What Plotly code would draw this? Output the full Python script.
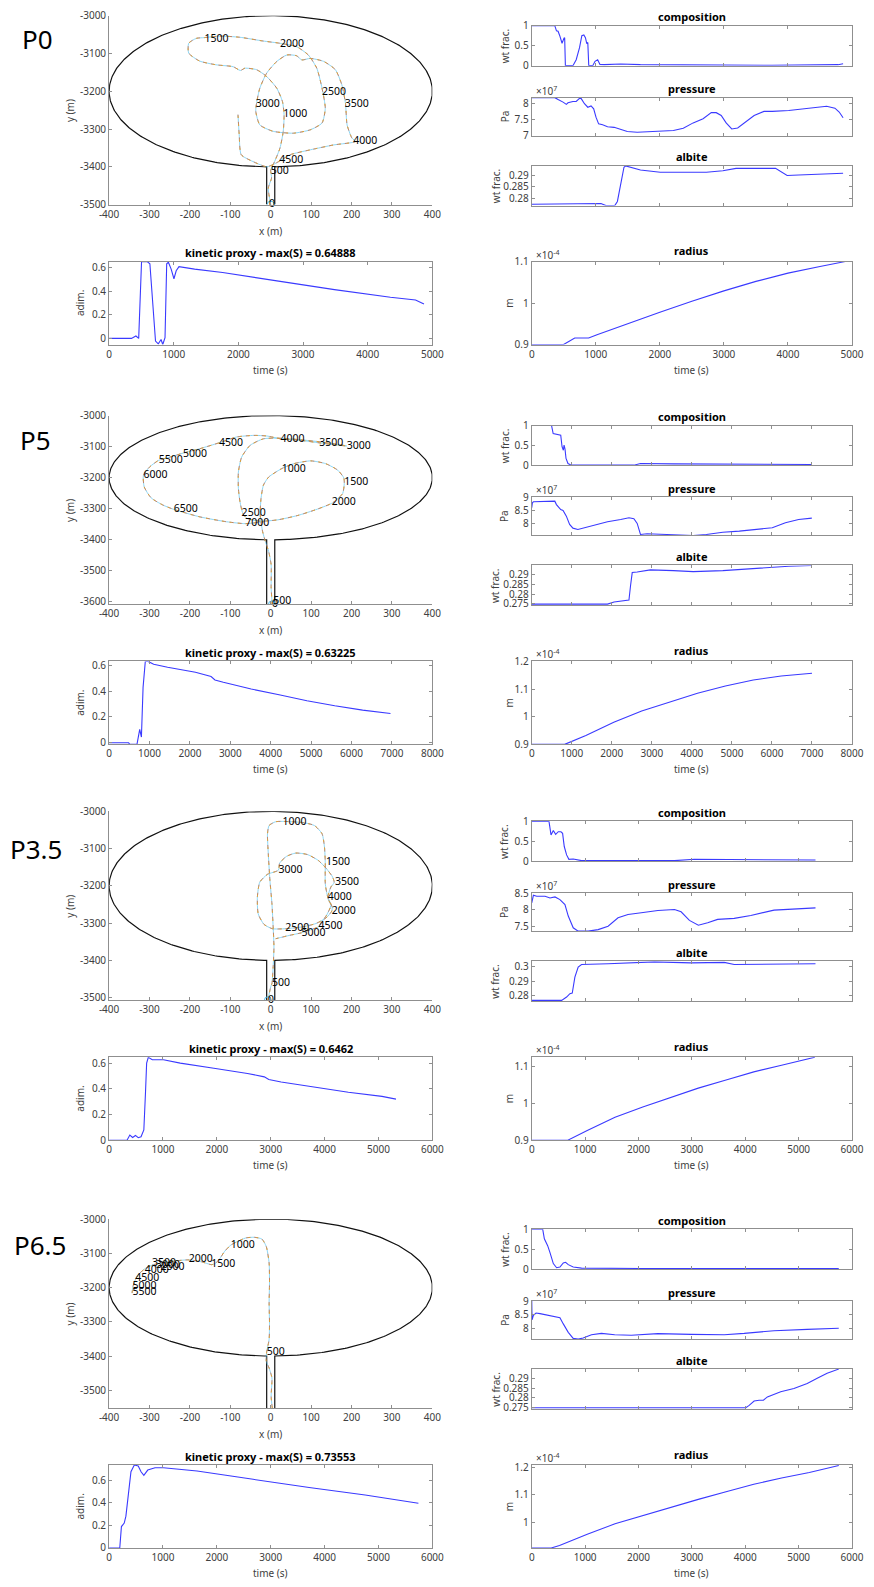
import numpy as np
import plotly.graph_objects as go

W, H = 874, 1587
# measured page placement of the figure in the photographed page (page = C + S * figure px)
SX, CX = 0.971, 10.3
SY, CY = 0.991, 6.3
FONT = "Noto Sans"

# ======================= DATA =======================
# ---- P0 ----
P0_traj_x = [0, -6, 2, 0, 10, 23, 31, 33, 29, 15, -10, -35, -64, -75, -93, -135, -176, -203, -203, -184,
             -164, -126, -77, -19, 23, 64, 93, 114, 127, 135, 127, 98, 56, 6, -27, -37, -35, -27, -10, 15,
             40, 64, 77, 98, 131, 160, 176, 185, 189, 201, 210, 156, 98, 48, 23, 6, -10, -44, -73, -78, -81]
P0_traj_y = [-3500, -3456, -3430, -3408, -3385, -3350, -3306, -3262, -3227, -3192, -3161, -3143, -3139, -3145,
             -3135, -3130, -3120, -3099, -3073, -3060, -3058, -3054, -3057, -3067, -3073, -3082, -3104, -3139,
             -3192, -3245, -3284, -3302, -3311, -3306, -3289, -3253, -3231, -3192, -3152, -3121, -3104, -3106,
             -3117, -3113, -3121, -3143, -3183, -3232, -3289, -3324, -3333, -3342, -3355, -3368, -3384, -3394,
             -3400, -3386, -3368, -3315, -3262]
P0_lbl_t = [0, 500, 1000, 1500, 2000, 2500, 3000, 3500, 4000, 4500]
P0_lbl_x = [-4, 0, 31, -164, 23, 127, -37, 183, 204, 21]
P0_lbl_y = [-3500, -3412, -3262, -3062, -3075, -3202, -3234, -3236, -3333, -3383]

P0_comp_t = [0, 360, 386, 411, 437, 473, 504, 514, 525, 643, 694, 746, 782, 813, 838, 859, 875, 890, 952, 988,
             1029, 1065, 1132, 1389, 1697, 2726, 3755, 4784, 4861]
P0_comp_v = [1, 1, 0.87, 0.86, 0.75, 0.56, 0.69, 0.70, 0, 0, 0.15, 0.45, 0.75, 0.77, 0.70, 0.55, 0.58, 0, 0, 0.11,
             0.15, 0.03, 0.025, 0.04, 0.025, 0.01, 0.01, 0.025, 0.05]
P0_pres_t = [0, 360, 411, 453, 489, 540, 566, 643, 694, 746, 772, 823, 875, 926, 967, 1003, 1044, 1106, 1183, 1286,
             1363, 1492, 1646, 1903, 2212, 2366, 2520, 2675, 2803, 2880, 2958, 3035, 3122, 3215, 3318, 3472, 3626,
             3755, 4012, 4321, 4604, 4733, 4800, 4861]
P0_pres_v = [8.19, 8.19, 8.13, 8.10, 8.05, 7.98, 8.03, 8.07, 8.07, 8.17, 8.16, 8.0, 7.89, 7.93, 7.84, 7.58, 7.37,
             7.34, 7.28, 7.26, 7.21, 7.13, 7.105, 7.14, 7.16, 7.23, 7.40, 7.53, 7.72, 7.72, 7.63, 7.40, 7.21, 7.24,
             7.40, 7.63, 7.76, 7.76, 7.79, 7.86, 7.92, 7.86, 7.74, 7.56]
P0_alb_t = [0, 977, 1080, 1157, 1296, 1337, 1389, 1440, 1466, 1697, 2006, 2726, 2983, 3189, 3806, 3909, 3987, 4167,
            4527, 4861]
P0_alb_v = [0.2774, 0.2774, 0.2777, 0.2768, 0.2768, 0.2786, 0.2858, 0.2935, 0.2941, 0.2923, 0.2913, 0.2913, 0.2920,
            0.2930, 0.2930, 0.2913, 0.2899, 0.2901, 0.2906, 0.2909]
P0_kin_t = [0, 346, 415, 458, 502, 588, 631, 675, 718, 761, 804, 830, 865, 891, 917, 960, 1003, 1038, 1081, 1323,
            1756, 2621, 3486, 4351, 4740, 4870]
P0_kin_v = [0, 0, 0.02, 0, 0.649, 0.649, 0.63, 0.30, -0.023, -0.046, -0.009, -0.052, 0.006, 0.63, 0.643, 0.585,
            0.504, 0.571, 0.606, 0.585, 0.557, 0.484, 0.412, 0.348, 0.325, 0.29]
P0_rad_t = [0, 497, 671, 888, 1019, 1500, 2000, 2500, 3000, 3500, 4000, 4500, 4895]
P0_rad_v = [0.9, 0.9, 0.916, 0.916, 0.924, 0.951, 0.978, 1.005, 1.030, 1.053, 1.073, 1.089, 1.101]

# ---- P5 ----
P5_traj_x = [3, 3, 1, 1, -5, -13, -20, -26, -24, -18, -5, 27, 57, 99, 136, 166, 181, 182, 178, 153,
             116, 66, 16, -26, -59, -69, -76, -80, -80, -72, -51, -18, 24, 74, 124, 157, 188, 157, 120, 74,
             24, -9, -42, -84, -128, -176, -217, -250, -277, -300, -315, -313, -296, -267, -240, -176, -109, -63, -18]
P5_traj_y = [-3608, -3596, -3555, -3480, -3438, -3406, -3374, -3320, -3267, -3224, -3198, -3171, -3155, -3146,
             -3155, -3176, -3201, -3219, -3251, -3281, -3301, -3322, -3336, -3340, -3331, -3315, -3278, -3235,
             -3182, -3134, -3096, -3075, -3073, -3078, -3085, -3091, -3098, -3094, -3088, -3080, -3075, -3066,
             -3064, -3069, -3088, -3107, -3121, -3134, -3144, -3166, -3192, -3230, -3265, -3288, -3302, -3326,
             -3342, -3348, -3342]
P5_lbl_t = [0, 500, 1000, 1500, 2000, 2500, 3000, 3500, 4000, 4500, 5000, 5500, 6000, 6500, 7000]
P5_lbl_x = [3, 6, 27, 182, 151, -72, 188, 120, 24, -128, -217, -277, -315, -240, -63]
P5_lbl_y = [-3608, -3598, -3174, -3214, -3281, -3315, -3098, -3090, -3076, -3091, -3124, -3146, -3192, -3302, -3348]

P5_comp_t = [0, 494, 535, 658, 724, 757, 790, 807, 831, 856, 905, 988, 2551, 2716, 3539, 6996]
P5_comp_v = [1, 1, 0.8, 0.78, 0.76, 0.47, 0.38, 0.51, 0.41, 0.175, 0.05, 0.008, 0.008, 0.05, 0.04, 0.025]
P5_pres_t = [0, 16, 41, 535, 576, 617, 724, 782, 864, 946, 1029, 1152, 1317, 1564, 1893, 2222, 2428, 2551, 2634,
             2716, 2881, 3374, 4033, 4362, 4773, 5185, 5679, 6008, 6337, 6667, 6996]
P5_pres_v = [8.61, 8.80, 8.835, 8.835, 8.86, 8.73, 8.54, 8.51, 8.29, 7.975, 7.835, 7.785, 7.85, 7.95, 8.076, 8.165,
             8.23, 8.19, 8.013, 7.595, 7.62, 7.595, 7.557, 7.595, 7.68, 7.72, 7.785, 7.85, 8.04, 8.165, 8.215]
P5_alb_t = [0, 1893, 2057, 2222, 2428, 2469, 2510, 2634, 2963, 3539, 4033, 4773, 5596, 6008, 6420, 6996]
P5_alb_v = [0.2748, 0.2748, 0.2759, 0.2764, 0.2769, 0.2846, 0.2912, 0.2915, 0.2926, 0.2922, 0.2917, 0.2922, 0.2933,
            0.2940, 0.2945, 0.2949]
P5_kin_t = [0, 483, 510, 690, 758, 800, 841, 896, 965, 1103, 1448, 2137, 2524, 2620, 2827, 3516, 4206, 4896, 5585,
            6275, 6964]
P5_kin_v = [0, 0, -0.013, -0.013, 0.104, 0.044, 0.43, 0.632, 0.632, 0.61, 0.587, 0.548, 0.514, 0.488, 0.47, 0.417,
            0.373, 0.326, 0.287, 0.253, 0.227]
P5_rad_t = [0, 822, 1352, 2049, 2746, 3443, 4140, 4837, 5534, 6231, 7000]
P5_rad_v = [0.9, 0.9, 0.932, 0.980, 1.021, 1.0535, 1.085, 1.111, 1.133, 1.147, 1.157]

# ---- P3.5 ----
P35_traj_x = [-7, 0, 3, 6, 8, 6, 3, -2, -6, -8, -4, 12, 29, 79, 108, 127, 133, 135, 135, 141,
              152, 151, 137, 112, 79, 36, 4, -17, -31, -33, -27, -8, 19, 22, 39, 62, 91, 118, 138, 153,
              157, 149, 141, 149, 138, 124, 118, 95, 76, 46, 12]
P35_traj_y = [-3507, -3471, -3462, -3418, -3364, -3310, -3248, -3185, -3114, -3060, -3038, -3028, -3027, -3030,
              -3038, -3060, -3096, -3138, -3194, -3230, -3257, -3268, -3286, -3301, -3310, -3315, -3315, -3303,
              -3275, -3230, -3190, -3169, -3158, -3139, -3121, -3112, -3116, -3132, -3154, -3176, -3191, -3203,
              -3232, -3252, -3279, -3300, -3310, -3319, -3326, -3333, -3342]
P35_lbl_t = [0, 500, 1000, 1500, 2000, 2500, 3000, 3500, 4000, 4500, 5000]
P35_lbl_x = [-7, 3, 29, 137, 151, 36, 19, 159, 141, 118, 76]
P35_lbl_y = [-3507, -3462, -3029, -3138, -3268, -3315, -3158, -3191, -3232, -3310, -3328]

P35_comp_t = [0, 323, 361, 404, 448, 497, 547, 578, 609, 653, 696, 777, 933, 2674, 3047, 5316]
P35_comp_v = [1, 1, 0.66, 0.77, 0.675, 0.74, 0.74, 0.70, 0.37, 0.16, 0.05, 0.058, 0.017, 0.017, 0.05, 0.033]
P35_pres_t = [0, 31, 93, 249, 342, 435, 528, 622, 684, 777, 870, 1057, 1244, 1430, 1617, 1803, 2052, 2363, 2674,
              2798, 2954, 3047, 3121, 3296, 3482, 3793, 4104, 4539, 4850, 5161, 5316]
P35_pres_v = [8.21, 8.44, 8.41, 8.41, 8.36, 8.39, 8.31, 8.16, 7.81, 7.455, 7.354, 7.354, 7.40, 7.505, 7.76, 7.86,
              7.91, 7.98, 8.01, 7.94, 7.68, 7.61, 7.535, 7.61, 7.71, 7.74, 7.83, 7.99, 8.02, 8.03, 8.06]
P35_alb_t = [0, 560, 653, 715, 759, 808, 870, 933, 1430, 2301, 2985, 3607, 3793, 4539, 5316]
P35_alb_v = [0.2767, 0.2767, 0.279, 0.2813, 0.2817, 0.2928, 0.2997, 0.3015, 0.302, 0.3033, 0.3026, 0.3029, 0.3015,
             0.3015, 0.302]
P35_kin_t = [0, 333, 385, 437, 489, 541, 593, 645, 676, 697, 728, 801, 1009, 1321, 1945, 2569, 2881, 2964, 3193,
             3817, 4441, 5065, 5325]
P35_kin_v = [0, 0, 0.04, 0.021, 0.037, 0.019, 0.027, 0.08, 0.373, 0.6, 0.646, 0.627, 0.627, 0.6, 0.56, 0.52, 0.493,
             0.472, 0.453, 0.413, 0.373, 0.341, 0.32]
P35_rad_t = [0, 676, 1040, 1560, 2080, 2600, 3120, 3640, 4160, 4680, 5304]
P35_rad_v = [0.9, 0.9, 0.926, 0.962, 0.990, 1.0165, 1.041, 1.063, 1.085, 1.103, 1.1247]

# ---- P6.5 ----
P65_traj_x = [4, 1, 3, -4, -11, -10, -4, -3, -4, -3, -4, -11, -22, -41, -62, -87, -99, -114, -127, -138,
              -147, -170, -203, -236, -269, -290, -309, -326, -335, -341, -343]
P65_traj_y = [-3553, -3518, -3464, -3435, -3415, -3388, -3352, -3304, -3245, -3187, -3128, -3080, -3058, -3053,
              -3055, -3068, -3076, -3094, -3117, -3130, -3133, -3125, -3119, -3122, -3128, -3133, -3143, -3160,
              -3177, -3197, -3216]
P65_lbl_t = [0, 500, 1000, 1500, 2000, 2500, 3000, 3500, 4000, 4500, 5000, 5500]
P65_lbl_x = [4, -10, -99, -147, -203, -273, -284, -294, -312, -335, -342, -342]
P65_lbl_y = [-3553, -3388, -3076, -3133, -3119, -3141, -3134, -3129, -3150, -3173, -3195, -3213]

P65_comp_t = [0, 205, 236, 298, 342, 404, 466, 528, 591, 634, 684, 777, 933, 2052, 5752]
P65_comp_v = [1, 1, 0.76, 0.586, 0.414, 0.138, 0.034, 0.052, 0.155, 0.172, 0.112, 0.052, 0.026, 0.017, 0.017]
P65_pres_t = [0, 6, 31, 81, 155, 311, 528, 591, 684, 777, 870, 964, 1119, 1306, 1554, 1865, 2363, 2985, 3607, 3980,
              4228, 4539, 5161, 5752]
P65_pres_v = [9.0, 8.31, 8.475, 8.56, 8.54, 8.475, 8.39, 8.16, 7.85, 7.625, 7.6, 7.64, 7.76, 7.81, 7.76, 7.74,
              7.80, 7.775, 7.76, 7.81, 7.86, 7.91, 7.96, 8.0]
P65_alb_t = [0, 4011, 4073, 4166, 4259, 4340, 4415, 4664, 4912, 5161, 5348, 5534, 5752]
P65_alb_v = [0.275, 0.275, 0.2762, 0.2784, 0.2788, 0.2788, 0.2805, 0.2831, 0.2848, 0.2874, 0.29, 0.2926, 0.2947]
P65_kin_t = [0, 198, 229, 281, 312, 364, 406, 468, 541, 593, 645, 718, 853, 1009, 1633, 2673, 3713, 4753, 5741]
P65_kin_v = [0, 0, 0.19, 0.221, 0.282, 0.494, 0.676, 0.7355, 0.727, 0.676, 0.645, 0.691, 0.712, 0.712, 0.682,
             0.609, 0.536, 0.47, 0.397]
P65_rad_t = [0, 364, 520, 1040, 1560, 2080, 2600, 3120, 3640, 4160, 4680, 5200, 5752]
P65_rad_v = [0.906, 0.906, 0.915, 0.956, 0.994, 1.024, 1.053, 1.083, 1.111, 1.138, 1.161, 1.181, 1.206]

# ---- case names, kinetic maxima, tick labels ----
case_names = ["P0", "P5", "P3.5", "P6.5"]
kin_max_txt = ["0.64888", "0.63225", "0.6462", "0.73553"]
time_max = [5000, 8000, 6000, 6000]
traj_ybottom = [-3500, -3608, -3507, -3552]
traj_yticks = [[-3000, -3100, -3200, -3300, -3400, -3500],
               [-3000, -3100, -3200, -3300, -3400, -3500, -3600],
               [-3000, -3100, -3200, -3300, -3400, -3500],
               [-3000, -3100, -3200, -3300, -3400, -3500]]
traj_xticks = [-400, -300, -200, -100, 0, 100, 200, 300, 400]
comp_ticks = [0, 0.5, 1]
pres_ticks = [[7, 7.5, 8], [8, 8.5, 9], [7.5, 8, 8.5], [8, 8.5, 9]]
pres_range = [[7.0, 8.19], [7.557, 9.0], [7.35, 8.5], [7.6, 9.0]]
alb_ticks = [[0.28, 0.285, 0.29], [0.275, 0.28, 0.285, 0.29], [0.28, 0.29, 0.3], [0.275, 0.28, 0.285, 0.29]]
alb_range = [[0.2768, 0.2942], [0.2741, 0.2949], [0.2761, 0.3037], [0.2743, 0.2947]]
kin_ticks = [0, 0.2, 0.4, 0.6]
kin_range = [[-0.052, 0.649], [-0.013, 0.632], [0, 0.6462], [0, 0.7355]]
rad_ticks = [[0.9, 1, 1.1], [0.9, 1, 1.1, 1.2], [0.9, 1, 1.1], [1, 1.1, 1.2]]
rad_range = [[0.9, 1.101], [0.9, 1.2], [0.9, 1.1247], [0.906, 1.208]]

# chamber geometry (ellipse + conduit)
ell_cx, ell_cy, ell_a, ell_b = 0, -3200, 400, 200
conduit_half = 10

traj_data = [(P0_traj_x, P0_traj_y, P0_lbl_t, P0_lbl_x, P0_lbl_y),
             (P5_traj_x, P5_traj_y, P5_lbl_t, P5_lbl_x, P5_lbl_y),
             (P35_traj_x, P35_traj_y, P35_lbl_t, P35_lbl_x, P35_lbl_y),
             (P65_traj_x, P65_traj_y, P65_lbl_t, P65_lbl_x, P65_lbl_y)]
series_data = [
    dict(comp=(P0_comp_t, P0_comp_v), pres=(P0_pres_t, P0_pres_v), alb=(P0_alb_t, P0_alb_v),
         kin=(P0_kin_t, P0_kin_v), rad=(P0_rad_t, P0_rad_v)),
    dict(comp=(P5_comp_t, P5_comp_v), pres=(P5_pres_t, P5_pres_v), alb=(P5_alb_t, P5_alb_v),
         kin=(P5_kin_t, P5_kin_v), rad=(P5_rad_t, P5_rad_v)),
    dict(comp=(P35_comp_t, P35_comp_v), pres=(P35_pres_t, P35_pres_v), alb=(P35_alb_t, P35_alb_v),
         kin=(P35_kin_t, P35_kin_v), rad=(P35_rad_t, P35_rad_v)),
    dict(comp=(P65_comp_t, P65_comp_v), pres=(P65_pres_t, P65_pres_v), alb=(P65_alb_t, P65_alb_v),
         kin=(P65_kin_t, P65_kin_v), rad=(P65_rad_t, P65_rad_v)),
]

# ======================= LAYOUT (target page pixels) =======================
block_off = [0, 400, 796, 1204]
block_lbl_pos = [(38, 37), (36, 38), (36, 52), (40, 40)]
LX = (109, 431)
RX = (530, 849)
TRAJ_Y = (14, 203)
COMP_Y = (24, 64)
PRES_Y = (96, 134)
ALB_Y = (164, 204)
BOT_Y = (260, 343)

AX_COLOR = "#8f8f8f"
TXT_COLOR = "#404040"
LINE_BLUE = "#3a3aff"
TICK_FONT = dict(family=FONT, size=10, color=TXT_COLOR)


def fx(p):
    return (p - CX) / SX / W


def fy(p):
    return 1 - (p - CY) / SY / H


def xdom(p):
    return [fx(p[0]), fx(p[1])]


def ydom(p, off):
    return [fy(p[1] + off), fy(p[0] + off)]


def fmt(v):
    return "%g" % v


fig = go.Figure()
layout = dict(width=W, height=H, margin=dict(l=0, r=0, t=0, b=0), paper_bgcolor="white",
              plot_bgcolor="white", showlegend=False, font=dict(family=FONT, size=10, color=TXT_COLOR))
annotations = []


def ann(text, x, y, size=10, color=TXT_COLOR, angle=0, xanchor="center", yanchor="middle"):
    annotations.append(dict(text=text, x=fx(x), y=fy(y), xref="paper", yref="paper",
                            showarrow=False, font=dict(family=FONT, size=size, color=color), textangle=angle,
                            xanchor=xanchor, yanchor=yanchor))


def axis(domain, rng, tickvals, ticktext, mirror, anchor, labels=True):
    return dict(domain=domain, range=rng, tickvals=tickvals, ticktext=ticktext, showline=True,
                linecolor=AX_COLOR, linewidth=1, mirror=mirror, ticks="inside", ticklen=3,
                tickcolor=AX_COLOR, tickwidth=1, showgrid=False, zeroline=False, showticklabels=labels,
                tickfont=TICK_FONT, anchor=anchor, fixedrange=True)


def names(k):
    s = "" if k == 1 else str(k)
    return "x" + s, "y" + s, "xaxis" + s, "yaxis" + s


k = 0
for b in range(4):
    off = block_off[b]
    tx, ty, lt, lx, ly = traj_data[b]
    sd = series_data[b]
    tmax = time_max[b]
    tticks = list(range(0, tmax + 1, 1000))
    ybot = traj_ybottom[b]

    # ---------- trajectory ----------
    k += 1
    xr, yr, xn, yn = names(k)
    d0 = np.arcsin(conduit_half / ell_a)
    th = np.linspace(1.5 * np.pi - d0, -0.5 * np.pi + d0, 400)
    ex = ell_cx + ell_a * np.cos(th)
    ey = ell_cy + ell_b * np.sin(th)
    gx = np.concatenate([[-conduit_half], ex, [conduit_half]])
    gy = np.concatenate([[ybot], ey, [ybot]])
    fig.add_trace(go.Scatter(x=gx, y=gy, mode="lines", line=dict(color="#111111", width=1.2),
                             xaxis=xr, yaxis=yr, hoverinfo="skip"))
    for col, dash, wdt in [("#4DBEEE", "solid", 0.9), ("#D95319", "4px,4px", 0.9), ("#EDB120", "2px,6px", 0.9)]:
        fig.add_trace(go.Scatter(x=tx, y=ty, mode="lines", line=dict(color=col, width=wdt, dash=dash,
                                                                    shape="spline", smoothing=0.6),
                                 opacity=0.7, xaxis=xr, yaxis=yr, hoverinfo="skip"))
    fig.add_trace(go.Scatter(x=[tx[0]], y=[ty[0]], mode="markers",
                             marker=dict(symbol="circle-open", size=7, color="#4DBEEE", line=dict(width=1)),
                             xaxis=xr, yaxis=yr, hoverinfo="skip"))
    fig.add_trace(go.Scatter(x=lx, y=ly, mode="text", text=[str(t) for t in lt], textposition="middle right",
                             textfont=dict(family=FONT, size=10.5, color="black"), xaxis=xr, yaxis=yr,
                             hoverinfo="skip", cliponaxis=False))
    layout[xn] = axis(xdom(LX), [-400, 400], traj_xticks, [fmt(v) for v in traj_xticks], False, yr)
    layout[yn] = axis(ydom(TRAJ_Y, off), [ybot, -3000], traj_yticks[b], [fmt(v) for v in traj_yticks[b]],
                      False, xr)
    ann("x (m)", (LX[0] + LX[1]) / 2, 229 + off, size=10)
    ann("y (m)", 70, (TRAJ_Y[0] + TRAJ_Y[1]) / 2 + off, size=10, angle=-90)
    bx, by = block_lbl_pos[b]
    ann(case_names[b], bx, by + off, size=26, color="black")

    # ---------- composition / pressure / albite ----------
    specs = [("comp", COMP_Y, comp_ticks, [0, 1], "composition", "wt frac.", 503),
             ("pres", PRES_Y, pres_ticks[b], pres_range[b], "pressure", "Pa", 503),
             ("alb", ALB_Y, alb_ticks[b], alb_range[b], "albite", "wt frac.", 494)]
    for key, yp, ticks, rng, title, ylab, ylx in specs:
        k += 1
        xr, yr, xn, yn = names(k)
        t, v = sd[key]
        fig.add_trace(go.Scatter(x=t, y=v, mode="lines", line=dict(color=LINE_BLUE, width=1.1),
                                 xaxis=xr, yaxis=yr, hoverinfo="skip"))
        layout[xn] = axis(xdom(RX), [0, tmax], tticks, [str(t_) for t_ in tticks], "ticks", yr, labels=False)
        layout[yn] = axis(ydom(yp, off), rng, ticks, [fmt(v_) for v_ in ticks], "ticks", xr)
        ann("<b>%s</b>" % title, (RX[0] + RX[1]) / 2, yp[0] - 9 + off, size=11, color="black")
        ann(ylab, ylx, (yp[0] + yp[1]) / 2 + off, size=10, angle=-90)
        if key == "pres":
            ann("×10<sup>7</sup>", RX[0] + 2, yp[0] - 7 + off, size=10, xanchor="left")

    # ---------- kinetic proxy ----------
    k += 1
    xr, yr, xn, yn = names(k)
    t, v = sd["kin"]
    fig.add_trace(go.Scatter(x=t, y=v, mode="lines", line=dict(color=LINE_BLUE, width=1.1),
                             xaxis=xr, yaxis=yr, hoverinfo="skip"))
    layout[xn] = axis(xdom(LX), [0, tmax], tticks, [str(t_) for t_ in tticks], "ticks", yr)
    layout[yn] = axis(ydom(BOT_Y, off), kin_range[b], kin_ticks, [fmt(v_) for v_ in kin_ticks], "ticks", xr)
    ann("<b>kinetic proxy - max(S) = %s</b>" % kin_max_txt[b], (LX[0] + LX[1]) / 2, 251 + off, size=11,
        color="black")
    ann("adim.", 80, (BOT_Y[0] + BOT_Y[1]) / 2 + off, size=10, angle=-90)
    ann("time (s)", (LX[0] + LX[1]) / 2, 368 + off, size=10)

    # ---------- radius ----------
    k += 1
    xr, yr, xn, yn = names(k)
    t, v = sd["rad"]
    fig.add_trace(go.Scatter(x=t, y=v, mode="lines", line=dict(color=LINE_BLUE, width=1.1),
                             xaxis=xr, yaxis=yr, hoverinfo="skip"))
    layout[xn] = axis(xdom(RX), [0, tmax], tticks, [str(t_) for t_ in tticks], "ticks", yr)
    layout[yn] = axis(ydom(BOT_Y, off), rad_range[b], rad_ticks[b], [fmt(v_) for v_ in rad_ticks[b]],
                      "ticks", xr)
    ann("<b>radius</b>", (RX[0] + RX[1]) / 2, 249 + off, size=11, color="black")
    ann("×10<sup>-4</sup>", RX[0] + 2, 253 + off, size=10, xanchor="left")
    ann("m", 507, (BOT_Y[0] + BOT_Y[1]) / 2 + off, size=10, angle=-90)
    ann("time (s)", (RX[0] + RX[1]) / 2, 368 + off, size=10)

layout["annotations"] = annotations
fig.update_layout(**layout)
fig.write_html("out.html")
